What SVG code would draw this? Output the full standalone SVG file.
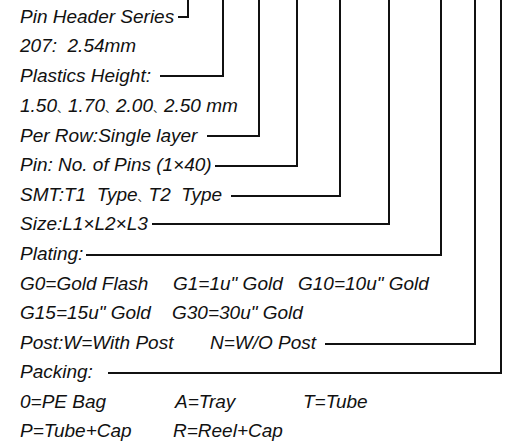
<svg xmlns="http://www.w3.org/2000/svg" width="507" height="442" viewBox="0 0 507 442">
<style>
text{font-family:"Liberation Sans","Noto Sans CJK SC",sans-serif;font-style:italic;font-size:19px;fill:#111}
.k{font-size:11px;font-style:normal}
.c{fill:none;stroke:#111;stroke-width:2}
</style>
<rect width="507" height="442" fill="#fff"/>
<g id="connectors">
<polyline class="c" points="178,17 188,17 188,0"/>
<polyline class="c" points="160,76 223,76 223,0"/>
<polyline class="c" points="207,136 259,136 259,0"/>
<polyline class="c" points="215,166 297,166 297,0"/>
<polyline class="c" points="231,196 340,196 340,0"/>
<polyline class="c" points="152,224 389,224 389,0"/>
<polyline class="c" points="86,255 441,255 441,0"/>
<polyline class="c" points="325,344 475,344 475,0"/>
<polyline class="c" points="108,373 501,373 501,0"/>
</g>
<g id="series"><text x="20" y="23">Pin Header Series</text></g>
<g id="pitch"><text x="20" y="52" xml:space="preserve">207:  2.54mm</text></g>
<g id="height"><text x="20" y="82">Plastics Height:</text>
<text x="20" y="112">1.50<tspan class="k">、</tspan>1.70<tspan class="k">、</tspan>2.00<tspan class="k">、</tspan>2.50 mm</text></g>
<g id="row"><text x="20" y="142">Per Row:Single layer</text></g>
<g id="pins"><text x="20" y="171">Pin: No. of Pins (1×40)</text></g>
<g id="smt"><text x="20" y="201" xml:space="preserve">SMT:T1  Type<tspan class="k">、</tspan>T2  Type</text></g>
<g id="size"><text x="20" y="230">Size:L1×L2×L3</text></g>
<g id="plating"><text x="20" y="260">Plating:</text>
<text x="20" y="290">G0=Gold Flash</text>
<text x="173" y="290">G1=1u" Gold</text>
<text x="298" y="290">G10=10u" Gold</text>
<text x="20" y="319">G15=15u" Gold</text>
<text x="172" y="319">G30=30u" Gold</text></g>
<g id="post"><text x="20" y="349">Post:W=With Post</text>
<text x="210" y="349">N=W/O Post</text></g>
<g id="packing"><text x="20" y="378">Packing:</text>
<text x="20" y="408">0=PE Bag</text>
<text x="175" y="408">A=Tray</text>
<text x="303" y="408">T=Tube</text>
<text x="20" y="437">P=Tube+Cap</text>
<text x="173" y="437">R=Reel+Cap</text></g>
</svg>
